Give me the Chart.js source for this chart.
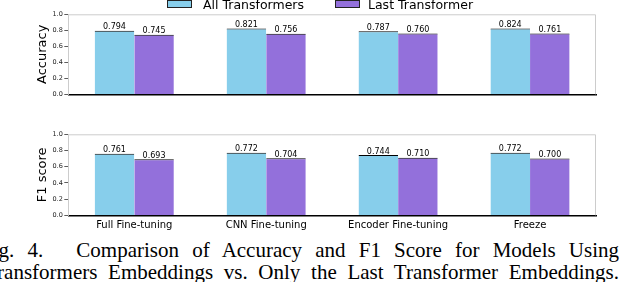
<!DOCTYPE html>
<html>
<head>
<meta charset="utf-8">
<script src="https://cdn.jsdelivr.net/npm/chart.js@4.4.1/dist/chart.umd.min.js"></script>
<style>
  body { margin: 0; width: 626px; height: 282px; position: relative; overflow: hidden; background: #fff; }
  canvas { position: absolute; left: 0; }
  #acc { top: 0; }
  #f1 { top: 120px; }
  .box { position: absolute; top: 0; width: 25px; height: 8px; border: 1px solid #222; box-sizing: border-box; }
  .ltext { position: absolute; top: -3px; font: 12.5px "DejaVu Sans"; line-height: 16px; color: #000; white-space: nowrap; }
  .cap { position: absolute; font: 21px "Liberation Serif"; line-height: 22px;
         text-align: justify; text-align-last: justify; white-space: nowrap; color: #000; }
</style>
</head>
<body>
<canvas id="acc" width="626" height="100"></canvas>
<canvas id="f1" width="626" height="112"></canvas>

<div class="box" style="left:167px; background:#87ceeb;"></div>
<div class="ltext" style="left:203px;">All Transformers</div>
<div class="box" style="left:335px; background:#9370db;"></div>
<div class="ltext" style="left:368px;">Last Transformer</div>

<div class="cap" style="top:239px; left:-19px; width:638px;">Fig. 4.<span style="display:inline-block;width:20px"></span> Comparison of Accuracy and F1 Score for Models Using</div>
<div class="cap" style="top:261px; left:-15px; width:634px;">Transformers Embeddings vs. Only the Last Transformer Embeddings.</div>

<script>
const categories = ['Full Fine-tuning', 'CNN Fine-tuning', 'Encoder Fine-tuning', 'Freeze'];
const accAll = [0.794, 0.821, 0.787, 0.824];
const accLast = [0.745, 0.756, 0.760, 0.761];
const f1All = [0.761, 0.772, 0.744, 0.772];
const f1Last = [0.693, 0.704, 0.710, 0.700];
const seriesNames = ['All Transformers', 'Last Transformer'];
const yTicks = [0.0, 0.2, 0.4, 0.6, 0.8, 1.0];

const blue = '#87ceeb';
const purple = '#9370db';

// light grey frame on top and right, like the matplotlib spines
const frame = {
    id: 'frame',
    afterDraw(chart){
        const a = chart.chartArea;
        const ctx = chart.ctx;
        ctx.save();
        ctx.strokeStyle = '#cccccc';
        ctx.lineWidth = 1;
        ctx.beginPath();
        ctx.moveTo(a.left, a.top + 0.5);
        ctx.lineTo(a.right - 0.5, a.top + 0.5);
        ctx.lineTo(a.right - 0.5, a.bottom);
        ctx.stroke();
        ctx.restore();
    }
};

// value above each bar
const barLabels = {
    id: 'barLabels',
    afterDatasetsDraw(chart){
        const ctx = chart.ctx;
        ctx.save();
        ctx.font = '8px "DejaVu Sans"';
        ctx.fillStyle = '#000';
        ctx.textAlign = 'center';
        ctx.textBaseline = 'alphabetic';
        chart.data.datasets.forEach((ds, i) => {
            chart.getDatasetMeta(i).data.forEach((bar, j) => {
                ctx.fillText(ds.data[j].toFixed(3), bar.x, bar.y - 1.5);
            });
        });
        ctx.restore();
    }
};

function makeChart(id, title, allVals, lastVals, showLabels, topPad, axisHeight){
    const canvas = document.getElementById(id);
    return new Chart(canvas, {
        type: 'bar',
        data: {
            labels: categories,
            datasets: [{
                label: seriesNames[0],
                data: allVals,
                backgroundColor: blue,
                borderColor: '#000',
                borderWidth: { top: 1, left: 0, right: 0, bottom: 0 },
                borderSkipped: false,
                categoryPercentage: 0.6,
                barPercentage: 1
            },
            {
                label: seriesNames[1],
                data: lastVals,
                backgroundColor: purple,
                borderColor: '#000',
                borderWidth: { top: 1, left: 0, right: 0, bottom: 0 },
                borderSkipped: false,
                categoryPercentage: 0.6,
                barPercentage: 1
            }]
        },
        options: {
            responsive: false,
            animation: false,
            devicePixelRatio: 1,
            layout: { padding: { left: 0, right: 30, top: topPad, bottom: 0 } },
            plugins: { legend: { display: false }, tooltip: { enabled: false } },
            scales: {
                x: {
                    grid: { display: false, drawTicks: false },
                    border: { color: '#000', width: 1.5 },
                    ticks: {
                        display: showLabels,
                        padding: 4,
                        color: '#000',
                        font: { family: 'DejaVu Sans', size: 10 }
                    },
                    afterFit(scale){ scale.height = axisHeight; }
                },
                y: {
                    min: 0,
                    max: 1,
                    afterBuildTicks(scale){ scale.ticks = yTicks.map(v => ({ value: v })); },
                    grid: { drawOnChartArea: false, drawTicks: true, tickLength: 4, color: '#333', lineWidth: 0.8 },
                    border: { color: '#cccccc', width: 1 },
                    ticks: {
                        padding: 1.5,
                        color: '#222',
                        font: { family: 'DejaVu Sans', size: 6.5 },
                        callback: v => v.toFixed(1)
                    },
                    title: {
                        display: true,
                        text: title,
                        color: '#000',
                        font: { family: 'DejaVu Sans', size: 13 },
                        padding: { top: 35, bottom: 0 }
                    },
                    afterFit(scale){ scale.width = 68.3; }
                }
            }
        },
        plugins: [frame, barLabels]
    });
}

makeChart('acc', 'Accuracy', accAll, accLast, false, 14.3, 5.7);
makeChart('f1', 'F1 score', f1All, f1Last, true, 14.3, 16.7);
</script>
</body>
</html>
